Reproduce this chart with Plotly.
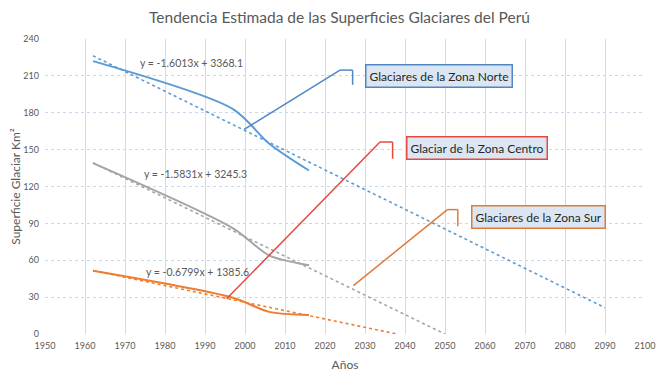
import plotly.graph_objects as go

# ---- data ----
years = [1962, 1997, 2006, 2016]
norte = [222, 183, 155, 133]
centro = [139, 86, 64, 56]
sur = [51.5, 29.5, 18, 15.5]

# trendline coefficients (as displayed) and extent
trend_slopes = [-1.6013, -1.5831, -0.6799]
trend_intercepts = [3368.1, 3245.3, 1385.6]
trend_start = [1962, 1962, 1962]
trend_end = [2090, 2050, 2038]
trend_labels = ["y = -1.6013x + 3368.1", "y = -1.5831x + 3245.3", "y = -0.6799x + 1385.6"]
trend_label_x = [1986.7, 1987.5, 1988.0]
trend_label_y = [220.2, 130.4, 50.4]

colors = ["#5b9bd5", "#a5a5a5", "#ed7d31"]
series = [norte, centro, sur]

# callouts: anchor, elbow, bar-x, bar y range, box centre, text, colour
callout_text = ["Glaciares de la Zona Norte", "Glaciar de la Zona Centro", "Glaciares de la Zona Sur"]
callout_anchor = [(1999.8, 166.5), (1995.4, 28.6), (2027.1, 39.4)]
callout_elbow = [(2023.75, 214.7), (2033.75, 156.2), (2050.6, 101.2)]
callout_bar_x = [2026.9, 2036.9, 2053.2]
callout_bar_y0 = [202.7, 142.6, 87.6]
callout_box = [(2048.4, 209.6), (2058.0, 151.2), (2073.3, 95.3)]
callout_colors = ["#4f87c4", "#e5493f", "#e07b39"]

x_ticks = list(range(1950, 2101, 10))
y_ticks = list(range(0, 241, 30))

FONT = "Lato"
fig = go.Figure()

for i in range(3):
    xs = [trend_start[i], trend_end[i]]
    ys = [trend_slopes[i] * x + trend_intercepts[i] for x in xs]
    fig.add_trace(go.Scatter(x=xs, y=ys, mode="lines",
                             line=dict(color=colors[i], width=1.6, dash="dot"),
                             showlegend=False, hoverinfo="skip"))

for i in range(3):
    fig.add_trace(go.Scatter(x=years, y=series[i], mode="lines",
                             line=dict(color=colors[i], width=2, shape="spline", smoothing=0.8),
                             showlegend=False))

shapes = []
annotations = []
for i in range(3):
    ax, ay = callout_anchor[i]
    ex, ey = callout_elbow[i]
    c = callout_colors[i]
    shapes.append(dict(type="line", xref="x", yref="y", x0=ax, y0=ay, x1=ex, y1=ey,
                       line=dict(color=c, width=1.5)))
    shapes.append(dict(type="line", xref="x", yref="y", x0=ex, y0=ey, x1=callout_bar_x[i], y1=ey,
                       line=dict(color=c, width=1.5)))
    shapes.append(dict(type="line", xref="x", yref="y", x0=callout_bar_x[i], y0=ey,
                       x1=callout_bar_x[i], y1=callout_bar_y0[i],
                       line=dict(color=c, width=1.5)))
    bx, by = callout_box[i]
    annotations.append(dict(x=bx, y=by, xref="x", yref="y", text=callout_text[i], showarrow=False,
                            font=dict(family=FONT, size=12, color="#262626"),
                            bgcolor="#dce6f2", bordercolor=c, borderwidth=1.5, borderpad=3))
    annotations.append(dict(x=trend_label_x[i], y=trend_label_y[i], xref="x", yref="y",
                            text=trend_labels[i], showarrow=False,
                            font=dict(family=FONT, size=10.5, color="#595959")))

# the page body adds an 8px offset, so the figure is sized to end at the window edge
fig.update_layout(
    width=663, height=368,
    margin=dict(l=37, r=26, t=31, b=42),
    paper_bgcolor="white", plot_bgcolor="white",
    title=dict(text="Tendencia Estimada de las Superficies Glaciares del Perú",
               x=0.5, xanchor="center", y=0.973, yanchor="middle",
               font=dict(family=FONT, size=15.5, color="#595959")),
    shapes=shapes, annotations=annotations,
    xaxis=dict(range=[1950, 2100], tickvals=x_ticks, showgrid=True, gridcolor="#d9d9d9",
               gridwidth=1, zeroline=False, showline=False, ticks="", automargin=False,
               ticklabelstandoff=5,
               tickfont=dict(family=FONT, size=9, color="#595959"),
               title=dict(text="Años", font=dict(family=FONT, size=12, color="#595959"), standoff=10)),
    yaxis=dict(range=[0, 240], tickvals=y_ticks, showgrid=True, gridcolor="#c9d7ea",
               griddash="dot", gridwidth=1, zeroline=False, showline=False, ticks="", automargin=False,
               ticklabelstandoff=5,
               tickfont=dict(family=FONT, size=9, color="#595959"),
               title=dict(text="Superficie Glaciar Km²", font=dict(family=FONT, size=12, color="#595959"),
                          standoff=6)),
)

fig.write_html("out.html")
